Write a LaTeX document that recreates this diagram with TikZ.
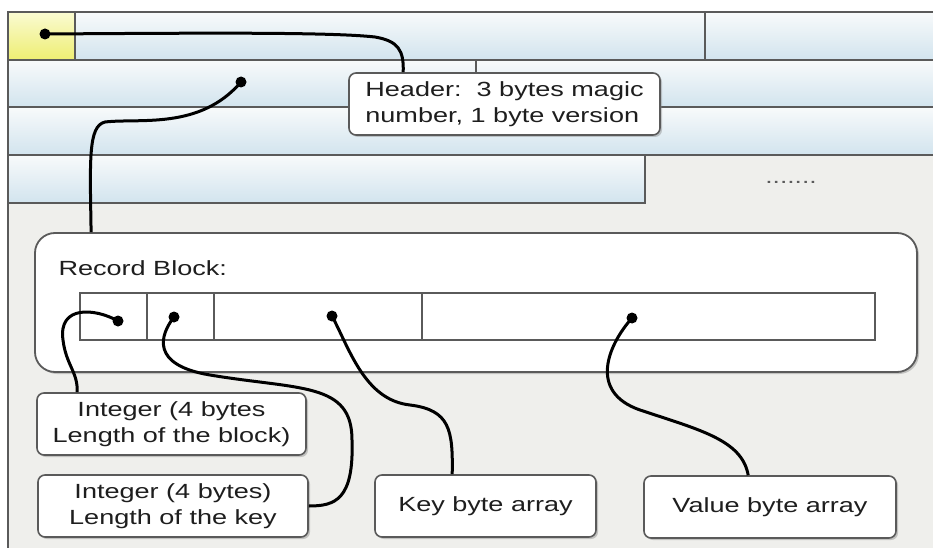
\documentclass[tikz,border=0pt]{standalone}
\usepackage{fontspec}
\setmainfont{Liberation Sans}[FakeStretch=1.32]
\usepackage{tikz}
\usetikzlibrary{positioning,shadows,calc}

\definecolor{edgegray}{HTML}{5A5A5A}
\definecolor{bggray}{HTML}{EFEFEC}
\definecolor{bartop}{HTML}{F8FAFB}
\definecolor{barbot}{HTML}{D2E4EE}
\definecolor{celltop}{HTML}{FAFBD2}
\definecolor{cellbot}{HTML}{EEEE72}
\definecolor{textgray}{HTML}{1E1E1E}

\begin{document}
\begin{tikzpicture}[x=1pt, y=-1pt,
    bar/.style={draw=edgegray, line width=1.6pt, top color=bartop, bottom color=barbot},
    cell/.style={draw=edgegray, line width=1.6pt, top color=celltop, bottom color=cellbot},
    callout/.style={draw=edgegray, line width=1.6pt, fill=white, rounded corners=7pt,
        drop shadow={shadow xshift=2pt, shadow yshift=-2pt, opacity=0.4},
        align=center, text=textgray, inner sep=0pt,
        font=\fontsize{20.5}{26}\selectfont},
    pin/.style={circle, fill=black, inner sep=0pt, minimum size=11pt},
    wire/.style={line width=3pt, black}]

    \useasboundingbox (0,0) rectangle (933,548);
    \clip (0,0) rectangle (933,548);
    \fill[white] (0,0) rectangle (933,548);
    \fill[bggray] (8,12) rectangle (933,548);
    \draw[edgegray, line width=1.6pt] (8,12) -- (8,548);

    % file rows
    \draw[cell] (8,12) rectangle (75,60);
    \draw[bar] (75,12) rectangle (705,60);
    \draw[bar] (705,12) rectangle (945,60);
    \draw[bar] (8,60) rectangle (476,107);
    \draw[bar] (476,60) rectangle (945,107);
    \draw[bar] (8,107) rectangle (945,155);
    \draw[bar] (8,155) rectangle (645,203);
    \node[text=edgegray, font=\fontsize{20}{22}\selectfont] (more) at (791,182) {.......};

    % record block
    \node[draw=edgegray, line width=1.8pt, fill=white, rounded corners=20pt,
        drop shadow={shadow xshift=2pt, shadow yshift=-2pt, opacity=0.4},
        minimum width=882pt, minimum height=139pt, inner sep=0pt] (rec) at (476,302.5) {};
    \node[anchor=west, text=textgray, font=\fontsize{20.5}{26}\selectfont] (reclabel) at (55,268) {Record Block:};
    \draw[edgegray, line width=1.6pt, fill=white] (80,293) rectangle (875,340);
    \foreach \x in {147,214,422}
        \draw[edgegray, line width=1.6pt] (\x,293) -- (\x,340);

    % callouts
    \node[callout, minimum width=311pt, minimum height=62pt, align=left] (hdr) at (504.5,104)
        {Header:\ \ 3 bytes magic\\number, 1 byte version};
    \node[callout, minimum width=269pt, minimum height=62pt] (blk) at (171.5,424)
        {Integer (4 bytes\\Length of the block)};
    \node[callout, minimum width=270pt, minimum height=62pt] (keylen) at (173,506)
        {Integer (4 bytes)\\Length of the key};
    \node[callout, minimum width=221pt, minimum height=62pt] (keyarr) at (485.5,506)
        {Key byte array};
    \node[callout, minimum width=252pt, minimum height=62pt] (valarr) at (770,507)
        {Value byte array};

    % pins
    \node[pin] (p0) at (45,34) {};
    \node[pin] (p1) at (241,82) {};
    \node[pin] (p2) at (118,321) {};
    \node[pin] (p3) at (174,317) {};
    \node[pin] (p4) at (332,316) {};
    \node[pin] (p5) at (632,318) {};

    \draw[wire] (p0.center) .. controls (200,33) and (330,32) .. (375,37)
        .. controls (398,41) and (404,50) .. ($(hdr.north west)+(55,0)$);
    \draw[wire] (p1.center) .. controls (200,130) and (140,118) .. (105,122)
        .. controls (88,126) and (90,160) .. ($(rec.north west)+(57,0)$);
    \draw[wire] (p2.center) .. controls (95,308) and (58,305) .. (63,340)
        .. controls (66,365) and (78,372) .. ($(blk.north west)+(41,0)$);
    \draw[wire] (p3.center) .. controls (160,335) and (150,365) .. (210,375)
        .. controls (300,390) and (352,382) .. (352,440)
        .. controls (354,500) and (335,506) .. (keylen.east);
    \draw[wire] (p4.center) .. controls (350,350) and (365,400) .. (410,405)
        .. controls (450,410) and (453,430) .. ($(keyarr.north west)+(78,0)$);
    \draw[wire] (p5.center) .. controls (608,345) and (588,392) .. (640,410)
        .. controls (700,430) and (742,440) .. ($(valarr.north west)+(105,0)$);

\end{tikzpicture}
\end{document}
